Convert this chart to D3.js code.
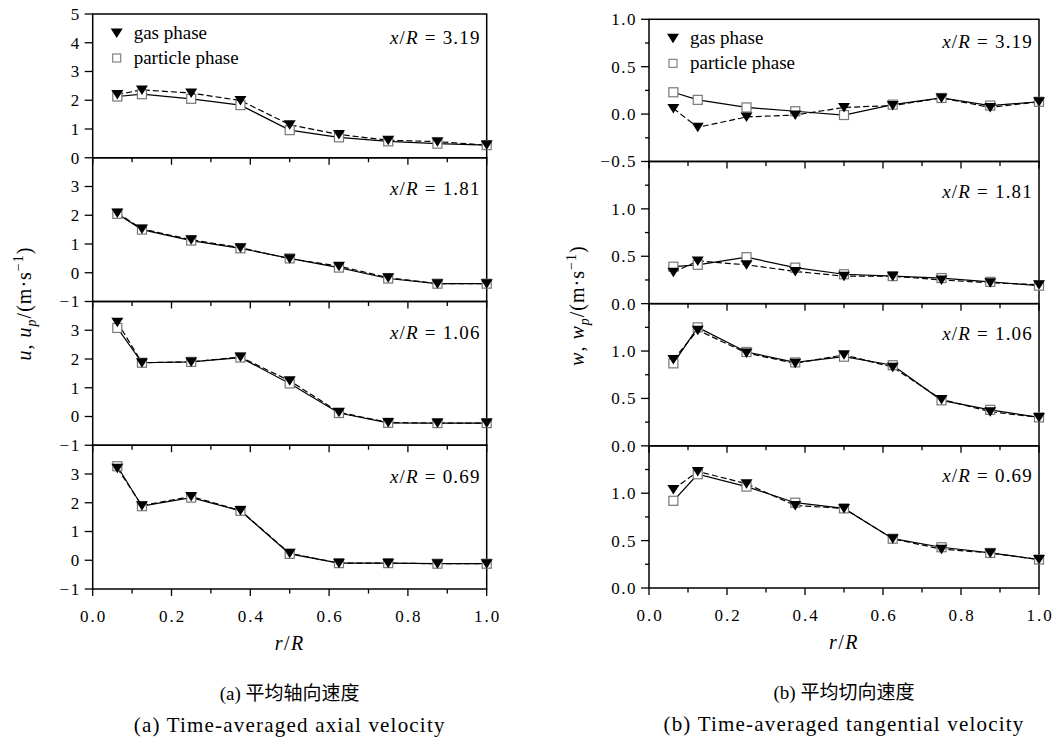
<!DOCTYPE html>
<html>
<head>
<meta charset="utf-8">
<script src="https://cdn.jsdelivr.net/npm/d3@7"></script>
<style>
  body { margin: 0; background: #fff; }
  svg { display: block; }
</style>
</head>
<body>
<svg id="chart" width="1057" height="737"></svg>
<script>
// radial positions r/R
const rR = [0.0625, 0.125, 0.25, 0.375, 0.5, 0.625, 0.75, 0.875, 1.0];
const stations = ["3.19", "1.81", "1.06", "0.69"];

// (a) axial velocity u, u_p (m/s), one row per station
const axialGas = [
    [2.20, 2.36, 2.25, 1.99, 1.15, 0.81, 0.61, 0.56, 0.44],
    [2.08, 1.52, 1.15, 0.87, 0.49, 0.23, -0.17, -0.38, -0.38],
    [3.28, 1.87, 1.90, 2.07, 1.24, 0.15, -0.21, -0.23, -0.23],
    [3.20, 1.90, 2.22, 1.73, 0.24, -0.10, -0.10, -0.12, -0.12]
];
const axialParticle = [
    [2.13, 2.21, 2.05, 1.83, 0.96, 0.71, 0.57, 0.49, 0.44],
    [2.05, 1.50, 1.12, 0.85, 0.50, 0.18, -0.20, -0.38, -0.38],
    [3.08, 1.87, 1.90, 2.05, 1.15, 0.12, -0.22, -0.23, -0.23],
    [3.27, 1.88, 2.18, 1.72, 0.22, -0.10, -0.10, -0.12, -0.12]
];

// (b) tangential velocity w, w_p (m/s)
const tangGas = [
    [0.06, -0.14, -0.03, -0.01, 0.07, 0.09, 0.17, 0.07, 0.13],
    [0.33, 0.45, 0.41, 0.34, 0.29, 0.29, 0.25, 0.22, 0.20],
    [0.91, 1.22, 0.98, 0.87, 0.96, 0.83, 0.49, 0.36, 0.30],
    [1.04, 1.23, 1.10, 0.87, 0.84, 0.52, 0.41, 0.37, 0.30]
];
const tangParticle = [
    [0.23, 0.15, 0.07, 0.03, -0.01, 0.10, 0.17, 0.09, 0.13],
    [0.39, 0.41, 0.49, 0.38, 0.31, 0.29, 0.27, 0.23, 0.19],
    [0.87, 1.25, 0.99, 0.88, 0.94, 0.85, 0.48, 0.38, 0.30],
    [0.92, 1.20, 1.07, 0.90, 0.84, 0.52, 0.43, 0.37, 0.30]
];

// y domains and tick values
const axialDomains = [[0, 5], [-1, 4], [-1, 4], [-1, 4]];
const axialTicks = [[0, 1, 2, 3, 4, 5], [-1, 0, 1, 2, 3], [-1, 0, 1, 2, 3], [-1, 0, 1, 2, 3]];
const tangDomains = [[-0.5, 1.0], [0, 1.5], [0, 1.5], [0, 1.5]];
const tangTicks = [[-0.5, 0, 0.5, 1.0], [0, 0.5, 1.0], [0, 0.5, 1.0], [0, 0.5, 1.0]];
const tangMinor = [[-0.25, 0.25, 0.75], [0.25, 0.75, 1.25], [0.25, 0.75, 1.25], [0.25, 0.75, 1.25]];
const xTicks = [0, 0.2, 0.4, 0.6, 0.8, 1.0];
const xMinor = [0.1, 0.3, 0.5, 0.7, 0.9];

const SERIF = "Liberation Serif, DejaVu Serif, serif";
const CJK = "Noto Sans CJK SC, sans-serif";

const svg = d3.select("#chart");

function fmtMinus(s) { return s.replace("-", "\u2212"); }

function drawColumn(cfg) {
    const g = svg.append("g");
    const x = d3.scaleLinear().domain([0, 1]).range([cfg.left, cfg.right]);
    const h = (cfg.bottom - cfg.top) / 4;

    for (let p = 0; p < 4; p++) {
        const top = cfg.top + p * h;
        const bot = top + h;
        const y = d3.scaleLinear().domain(cfg.domains[p]).range([bot, top]);
        const pg = g.append("g");

        // frame
        pg.append("rect")
            .attr("x", cfg.left).attr("y", top)
            .attr("width", cfg.right - cfg.left).attr("height", h)
            .attr("fill", "none").attr("stroke", "#000").attr("stroke-width", 1.5);

        // x ticks (pointing down, outward)
        pg.append("g").selectAll("line").data(xTicks).join("line")
            .attr("x1", d => x(d)).attr("x2", d => x(d))
            .attr("y1", bot).attr("y2", bot + 7)
            .attr("stroke", "#000").attr("stroke-width", 1.3);
        pg.append("g").selectAll("line").data(xMinor).join("line")
            .attr("x1", d => x(d)).attr("x2", d => x(d))
            .attr("y1", bot).attr("y2", bot + 4.5)
            .attr("stroke", "#000").attr("stroke-width", 1.3);

        // y ticks
        pg.append("g").selectAll("line").data(cfg.ticks[p]).join("line")
            .attr("x1", cfg.left - 8).attr("x2", cfg.left)
            .attr("y1", d => y(d)).attr("y2", d => y(d))
            .attr("stroke", "#000").attr("stroke-width", 1.3);
        if (cfg.minor) {
            pg.append("g").selectAll("line").data(cfg.minor[p]).join("line")
                .attr("x1", cfg.left - 4).attr("x2", cfg.left)
                .attr("y1", d => y(d)).attr("y2", d => y(d))
                .attr("stroke", "#000").attr("stroke-width", 1.3);
        }
        pg.append("g").selectAll("text").data(cfg.ticks[p]).join("text")
            .attr("x", cfg.left - 12).attr("y", d => y(d))
            .attr("dy", "0.35em")
            .attr("text-anchor", "end")
            .attr("font-family", SERIF)
            .attr("font-size", 17)
            .attr("letter-spacing", 1.5)
            .text(d => fmtMinus(cfg.fmt(d)));

        // lines
        const line = d3.line().x((d, i) => x(rR[i])).y(d => y(d));
        pg.append("path").datum(cfg.particle[p])
            .attr("d", line).attr("fill", "none")
            .attr("stroke", "#000").attr("stroke-width", 1.2);
        pg.append("path").datum(cfg.gas[p])
            .attr("d", line).attr("fill", "none")
            .attr("stroke", "#000").attr("stroke-width", 1.2)
            .attr("stroke-dasharray", "6,3");

        // particle markers: hollow grey squares
        pg.append("g").selectAll("rect").data(cfg.particle[p]).join("rect")
            .attr("x", (d, i) => x(rR[i]) - 4.5).attr("y", d => y(d) - 4.5)
            .attr("width", 9).attr("height", 9)
            .attr("fill", "#fff").attr("stroke", "#777").attr("stroke-width", 1.2);

        // gas markers: filled down triangles
        pg.append("g").selectAll("path").data(cfg.gas[p]).join("path")
            .attr("transform", (d, i) => `translate(${x(rR[i])},${y(d)})`)
            .attr("d", "M-6,-4.5L6,-4.5L0,5Z")
            .attr("fill", "#000");

        // station label
        const lab = pg.append("text")
            .attr("x", cfg.right - 6)
            .attr("y", top + (p === 0 ? cfg.firstLabelDy : cfg.labelDy))
            .attr("dy", "0.35em")
            .attr("text-anchor", "end")
            .attr("font-family", SERIF)
            .attr("font-size", 19)
            .attr("letter-spacing", 1.2);
        lab.append("tspan").attr("font-style", "italic").text("x");
        lab.append("tspan").text("/");
        lab.append("tspan").attr("font-style", "italic").text("R");
        lab.append("tspan").text(" = " + stations[p]);
    }

    // bottom tick labels
    g.append("g").selectAll("text").data(xTicks).join("text")
        .attr("x", d => x(d) + 1).attr("y", cfg.bottom + 27)
        .attr("dy", "0.35em")
        .attr("text-anchor", "middle")
        .attr("font-family", SERIF)
        .attr("font-size", 17)
        .attr("letter-spacing", 2)
        .text(d => d.toFixed(1));

    // x title
    const xt = g.append("text")
        .attr("x", (cfg.left + cfg.right) / 2).attr("y", cfg.bottom + 54)
        .attr("dy", "0.35em")
        .attr("text-anchor", "middle")
        .attr("font-family", SERIF)
        .attr("font-size", 20)
        .attr("letter-spacing", 1.5);
    xt.append("tspan").attr("font-style", "italic").text("r");
    xt.append("tspan").text("/");
    xt.append("tspan").attr("font-style", "italic").text("R");

    // y title
    const yt = g.append("text")
        .attr("transform", `translate(${cfg.yTitleX},${(cfg.top + cfg.bottom) / 2 + 2}) rotate(-90)`)
        .attr("text-anchor", "middle")
        .attr("dy", "0.35em")
        .attr("font-family", SERIF)
        .attr("font-size", 20)
        .attr("letter-spacing", 1);
    yt.append("tspan").attr("font-style", "italic").text(cfg.sym);
    yt.append("tspan").text(", ");
    yt.append("tspan").attr("font-style", "italic").text(cfg.sym);
    yt.append("tspan").attr("font-style", "italic").attr("font-size", 14).attr("dy", 5).text("p");
    yt.append("tspan").attr("dy", -5).text("/(m\u00b7s");
    yt.append("tspan").attr("font-size", 14).attr("dy", -8).text("\u22121");
    yt.append("tspan").attr("dy", 8).text(")");

    // legend
    const lx = cfg.left + 24, ly = cfg.top + 19;
    g.append("path").attr("transform", `translate(${lx},${ly})`)
        .attr("d", "M-6,-4.5L6,-4.5L0,5Z").attr("fill", "#000");
    g.append("rect").attr("x", lx - 4).attr("y", ly + 25 - 4).attr("width", 8).attr("height", 8)
        .attr("fill", "#fff").attr("stroke", "#777").attr("stroke-width", 1.1);
    g.append("text").attr("x", lx + 17).attr("y", ly).attr("dy", "0.3em")
        .attr("font-family", SERIF).attr("font-size", 19).text("gas phase");
    g.append("text").attr("x", lx + 17).attr("y", ly + 25).attr("dy", "0.3em")
        .attr("font-family", SERIF).attr("font-size", 19).text("particle phase");

    // captions
    const cx = (cfg.left + cfg.right) / 2;
    const cn = g.append("text")
        .attr("x", cx).attr("y", cfg.bottom + 104).attr("dy", "0.35em")
        .attr("text-anchor", "middle").attr("font-size", 19);
    cn.append("tspan").attr("font-family", SERIF).text(cfg.captionTag + " ");
    cn.append("tspan").attr("font-family", CJK).attr("font-weight", 400).text(cfg.captionCn);
    g.append("text")
        .attr("x", cx).attr("y", cfg.bottom + 136).attr("dy", "0.35em")
        .attr("text-anchor", "middle").attr("font-size", 21)
        .attr("font-family", SERIF)
        .attr("letter-spacing", 1.2)
        .text(cfg.captionTag + " " + cfg.captionEn);
}

drawColumn({
    left: 92.7, right: 486.7, top: 14, bottom: 589,
    domains: axialDomains, ticks: axialTicks, minor: null,
    gas: axialGas, particle: axialParticle,
    fmt: d => String(d), sym: "u", yTitleX: 24,
    firstLabelDy: 23, labelDy: 31,
    captionTag: "(a)",
    captionCn: "平均轴向速度",
    captionEn: "Time-averaged axial velocity"
});

drawColumn({
    left: 649, right: 1039, top: 19.3, bottom: 588,
    domains: tangDomains, ticks: tangTicks, minor: tangMinor,
    gas: tangGas, particle: tangParticle,
    fmt: d => d.toFixed(1), sym: "w", yTitleX: 577,
    firstLabelDy: 22, labelDy: 30,
    captionTag: "(b)",
    captionCn: "平均切向速度",
    captionEn: "Time-averaged tangential velocity"
});
</script>
</body>
</html>
